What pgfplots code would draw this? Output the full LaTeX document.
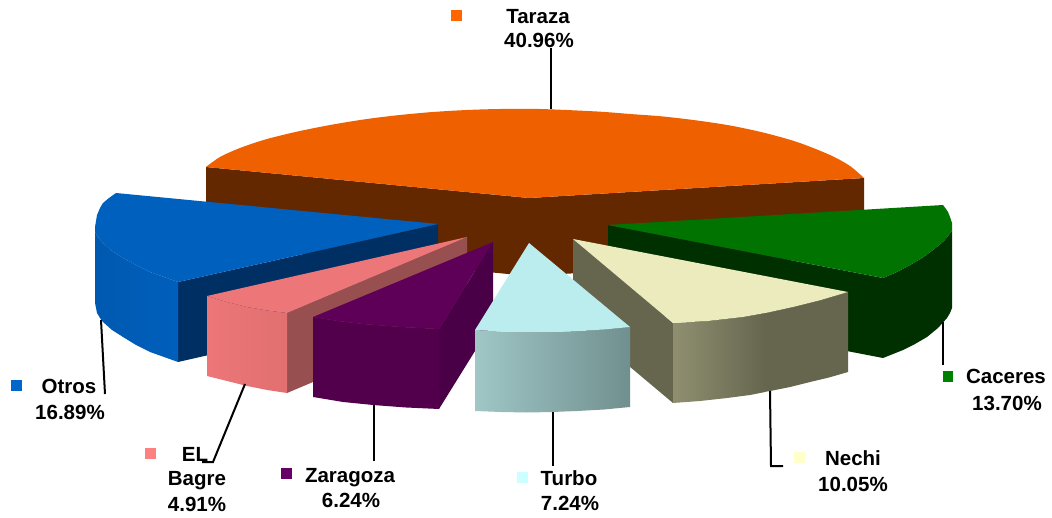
\documentclass[border=0pt]{standalone}
\usepackage{pgfplots}
\pgfplotsset{compat=1.18}
\usepackage{fontspec}
\setmainfont{Liberation Sans}
\definecolor{ora}{HTML}{EE6000}
\definecolor{bro}{HTML}{642800}
\definecolor{gre}{HTML}{007300}
\definecolor{dgr}{HTML}{003000}
\definecolor{blu}{HTML}{0060BE}
\definecolor{blus}{HTML}{005FBC}
\definecolor{blul}{HTML}{0059B0}
\definecolor{nav}{HTML}{002F63}
\definecolor{pin}{HTML}{EC7678}
\definecolor{pins}{HTML}{E27070}
\definecolor{dpi}{HTML}{984F4F}
\definecolor{pur}{HTML}{5E0058}
\definecolor{purs}{HTML}{52004C}
\definecolor{purd}{HTML}{4A0046}
\definecolor{tur}{HTML}{BCEDEE}
\definecolor{turl}{HTML}{A0C6C6}
\definecolor{turr}{HTML}{70908F}
\definecolor{nec}{HTML}{ECEBBD}
\definecolor{necl}{HTML}{8F8F70}
\definecolor{necd}{HTML}{66664F}
\newcommand{\lab}[3]{\node[anchor=base,inner sep=0pt,font=\fontsize{20.5}{24}\selectfont\bfseries] at (axis cs:#1,#2) {#3};}
\begin{document}
\begin{tikzpicture}
\begin{axis}[scale only axis,width=1052pt,height=518pt,xmin=0,xmax=1052,ymin=0,ymax=518,y dir=reverse,axis lines=none,no markers,clip=false]
\addplot[fill=white,draw=none] coordinates {(0,0)(1052,0)(1052,518)(0,518)};
% Taraza
\addplot[fill=bro,draw=none] coordinates {(206,167)(529,198)(864,178)(864,256)(529,276)(206,245)};
\addplot[fill=ora,draw=none] coordinates {(206,167)(529,140)(864,178)(529,198)};
\addplot[fill=ora,draw=none,smooth] coordinates {(206,167)(220,157)(240,148)(267,139)(300,131)(333,124.5)(367,119)(400,115)(433,112)(467,110)(500,109)(540,109)(597,111.5)(630,114)(663,116.5)(697,120.5)(730,125.5)(763,132.5)(797,142)(830,155)(850,166)(864,178)};
% Caceres
\addplot[fill=dgr,draw=none] coordinates {(608,225)(883,278)(897,272)(910,265)(922,258)(933,250)(944,241)(952,231)(952,308)(950,313)(947,318)(938,328)(927,337)(915,344)(903,350)(893,354)(883,358)(608,305)};
\addplot[fill=gre,draw=none] coordinates {(608,225)(943,205)(946,209)(948,212)(950,217)(952,223)(952,231)(944,241)(933,250)(922,258)(910,265)(897,272)(883,278)};
% Otros
\addplot[fill=nav,draw=none] coordinates {(178,282)(438,224)(438,303)(178,362)};
\addplot[shade,left color=blul,right color=blus,draw=none] coordinates {(95,232)(95,303)(96,308)(97,313)(100,318)(103,322)(112,330)(123,337)(136,345)(150,352)(164,357)(178,362)(178,282)(164,277)(150,272)(136,265)(123,258)(112,251)(103,243)(98,237)};
\addplot[fill=blu,draw=none] coordinates {(438,224)(116,193)(109,198)(103,203)(100,208)(97,215)(96,221)(95,227)(95,232)(98,237)(103,243)(112,251)(123,258)(136,265)(150,272)(164,277)(178,282)};
% El Bagre
\addplot[fill=dpi,draw=none] coordinates {(287,313)(467,237)(467,317)(287,393)};
\addplot[shade,left color=pin,right color=pins,draw=none] coordinates {(207,296)(227,302)(247,307)(267,310.5)(287,313)(287,393)(267,390)(247,386)(227,381)(207,376)};
\addplot[fill=pin,draw=none] coordinates {(207,296)(467,237)(287,313)(267,310.5)(247,307)(227,302)};
% Zaragoza
\addplot[fill=purd,draw=none] coordinates {(439,329)(493,242)(493,322)(439,409)};
\addplot[fill=purs,draw=none] coordinates {(313,317)(338,321)(363,324)(401,327)(439,329)(439,409)(406,407.5)(373,405)(343,402)(313,397)};
\addplot[fill=pur,draw=none] coordinates {(493,242)(313,317)(338,321)(363,324)(401,327)(439,329)};
% Nechi
\addplot[fill=necd,draw=none] coordinates {(573,239)(673,323)(673,403)(573,319)};
\addplot[fill=necd,draw=none] coordinates {(764,313)(768,312.5)(793,307)(821,300)(848,292)(848,372)(829,377.5)(810,382)(790,387)(770,391)(764,392)};
\addplot[shade,left color=necl,right color=necd,draw=none] coordinates {(673,323)(708,321)(743,317)(765,313)(765,392)(750,395)(727,398)(700,401)(673,403)};
\addplot[fill=nec,draw=none] coordinates {(573,239)(848,292)(821,300)(793,307)(768,312.5)(743,317)(708,321)(673,323)};
% Turbo
\addplot[shade,left color=turl,right color=turr,draw=none] coordinates {(475,330)(501,331.5)(527,332)(552,332)(577,331)(604,329.5)(630,327)(630,407)(604,409.5)(577,411)(552,412)(527,412.5)(501,412)(475,411)};
\addplot[fill=tur,draw=none] coordinates {(529,243)(475,330)(501,331.5)(527,332)(552,332)(577,331)(604,329.5)(630,327)};
% leader lines
\addplot[black,line width=2pt] coordinates {(551,48)(551,109)};
\addplot[black,line width=2pt] coordinates {(943,322)(943,365)};
\addplot[black,line width=2pt] coordinates {(770,391)(771,466)(783,466)};
\addplot[black,line width=2pt] coordinates {(553,412)(553,466)};
\addplot[black,line width=2pt] coordinates {(374,405)(374,461)};
\addplot[black,line width=2pt] coordinates {(245,384)(213,462)(202,462)};
\addplot[black,line width=2pt] coordinates {(101,320)(105,394)};
% legend squares
\addplot[fill={rgb,255:red,255;green,102;blue,0},draw=none] coordinates {(451,10)(462,10)(462,21)(451,21)};
\addplot[fill={rgb,255:red,0;green,128;blue,0},draw=none] coordinates {(943,371)(953,371)(953,382)(943,382)};
\addplot[fill={rgb,255:red,255;green,255;blue,204},draw=none] coordinates {(794,452)(805,452)(805,463)(794,463)};
\addplot[fill={rgb,255:red,204;green,255;blue,255},draw=none] coordinates {(517,472)(528,472)(528,483)(517,483)};
\addplot[fill={rgb,255:red,102;green,0;blue,102},draw=none] coordinates {(281,468)(292,468)(292,479)(281,479)};
\addplot[fill={rgb,255:red,255;green,128;blue,128},draw=none] coordinates {(145,448)(156,448)(156,459)(145,459)};
\addplot[fill={rgb,255:red,0;green,102;blue,204},draw=none] coordinates {(11,380)(22,380)(22,391)(11,391)};
% labels
\lab{538}{24}{Taraza}
\lab{539}{48}{40.96\%}
\lab{69}{394}{Otros}
\lab{70}{419}{16.89\%}
\lab{195}{461}{EL}
\lab{197}{485}{Bagre}
\lab{197}{511}{4.91\%}
\lab{350}{482}{Zaragoza}
\lab{351}{507}{6.24\%}
\lab{569}{485}{Turbo}
\lab{570}{510}{7.24\%}
\lab{853}{465}{Nechi}
\lab{853}{491}{10.05\%}
\lab{1006}{384}{Caceres}
\lab{1007}{410}{13.70\%}
\end{axis}
\end{tikzpicture}
\end{document}
